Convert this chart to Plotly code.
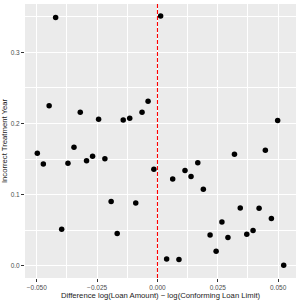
import plotly.graph_objects as go

# Data
x_diff = [-0.0422, -0.0449, -0.0346, -0.0320, -0.0244, -0.0142, -0.0115, -0.0064, -0.0039,
          0.0013, 0.0498, 0.0447,
          -0.0498, -0.0473, -0.0371, -0.0294, -0.0269, -0.0218, -0.0192, -0.0090, -0.0397, -0.0167,
          -0.0015, 0.0063, 0.0114, 0.0139, 0.0167, 0.0190, 0.0319, 0.0343, 0.0421, 0.0472,
          0.0267, 0.0218, 0.0292, 0.0370, 0.0396, 0.0243, 0.0038, 0.0089, 0.0523]
y_share = [0.349, 0.225, 0.1668, 0.216, 0.206, 0.205, 0.2076, 0.216, 0.2315,
           0.351, 0.2044, 0.1626,
           0.1584, 0.1433, 0.1443, 0.1476, 0.1541, 0.1504, 0.0904, 0.0885, 0.0515, 0.0454,
           0.1359, 0.1222, 0.134, 0.1256, 0.1448, 0.1077, 0.157, 0.0815, 0.081, 0.0665,
           0.0618, 0.0435, 0.0398, 0.0444, 0.0496, 0.0205, 0.0097, 0.0089, 0.0008]
cutoff = 0.0
x_tickvals = [-0.05, -0.025, 0.0, 0.025, 0.05]
x_ticktext = ["\u22120.050", "\u22120.025", "0.000", "0.025", "0.050"]
y_tickvals = [0.0, 0.1, 0.2, 0.3]
y_ticktext = ["0.0", "0.1", "0.2", "0.3"]

fig = go.Figure()
fig.add_trace(go.Scatter(x=x_diff, y=y_share, mode="markers",
                         marker=dict(color="black", size=5.5, line=dict(width=0)),
                         showlegend=False, hoverinfo="skip"))
fig.add_shape(type="line", x0=cutoff, x1=cutoff, xref="x", y0=0, y1=1, yref="paper",
              line=dict(color="#FF0000", width=1.1, dash="4px,2px"))

font = "Liberation Sans, Arial, sans-serif"
axis_common = dict(showgrid=True, gridcolor="white", gridwidth=1, zeroline=False,
                   showline=False, ticks="outside", ticklen=3, tickwidth=1, automargin=False,
                   tickcolor="#333333", tickfont=dict(family=font, size=6.5, color="#4D4D4D"))
fig.update_xaxes(range=[-0.0549, 0.0574], tickvals=x_tickvals, ticktext=x_ticktext,
                 minor=dict(dtick=0.0125, tick0=0.0125, showgrid=True, gridcolor="white", gridwidth=0.5),
                 title=dict(text="Difference log(Loan Amount) \u2212 log(Conforming Loan Limit)",
                            font=dict(family=font, size=7.7, color="#1A1A1A"), standoff=2),
                 **axis_common)
fig.update_yaxes(range=[-0.017, 0.368], tickvals=y_tickvals, ticktext=y_ticktext,
                 minor=dict(dtick=0.05, tick0=0.05, showgrid=True, gridcolor="white", gridwidth=0.5),
                 title=dict(text="Incorrect Treatment Year",
                            font=dict(family=font, size=7.7, color="#1A1A1A"), standoff=3),
                 **axis_common)
fig.update_layout(width=300, height=300, margin=dict(l=25, r=4, t=4, b=22),
                  plot_bgcolor="#EBEBEB", paper_bgcolor="white")
fig.write_html("out.html", config={"displayModeBar": False},
               post_script="document.body.style.margin='0';document.body.style.overflow='hidden';")
